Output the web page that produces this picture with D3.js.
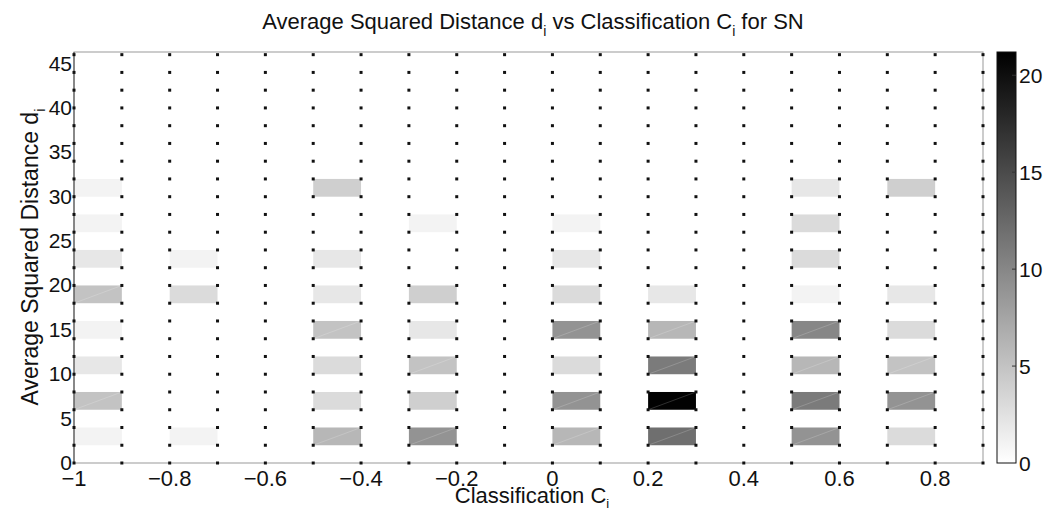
<!DOCTYPE html>
<html>
<head>
<meta charset="utf-8">
<script src="https://cdn.jsdelivr.net/npm/d3@7"></script>
<style>
  body { margin: 0; background: #fff; }
  text { font-family: "Liberation Sans", Arial, sans-serif; fill: #111; }
</style>
</head>
<body>
<svg id="chart" width="1044" height="513"></svg>
<script>
// bin left edges (classification) and bottom edges (distance), bin size 0.1 x 2
const binX = [-1, -0.8, -0.5, -0.3, 0, 0.2, 0.5, 0.7]
const binY = [2, 6, 10, 14, 18, 22, 26, 30]
// counts[column][row], rows from bottom (2-4) to top (30-32)
const counts = [
  [1, 5, 2, 1, 5, 2, 1, 1],
  [1, 0, 0, 0, 3, 1, 0, 0],
  [6, 3, 3, 5, 2, 2, 0, 4],
  [9, 4, 5, 2, 4, 0, 1, 0],
  [6, 9, 3, 9, 3, 2, 1, 0],
  [12, 21, 11, 6, 2, 0, 0, 0],
  [9, 11, 6, 10, 1, 3, 3, 2],
  [3, 9, 5, 3, 2, 0, 0, 4],
]
const gridX = [-1, -0.9, -0.8, -0.7, -0.6, -0.5, -0.4, -0.3, -0.2, -0.1, 0,
  0.1, 0.2, 0.3, 0.4, 0.5, 0.6, 0.7, 0.8, 0.9]
const gridY = [0, 2, 4, 6, 8, 10, 12, 14, 16, 18, 20, 22, 24, 26, 28, 30, 32,
  34, 36, 38, 40, 42, 44, 46]
const xTicks = [-1, -0.8, -0.6, -0.4, -0.2, 0, 0.2, 0.4, 0.6, 0.8]
const yTicks = [0, 5, 10, 15, 20, 25, 30, 35, 40, 45]
const cTicks = [0, 5, 10, 15, 20]
const cMax = 21.2

const svg = d3.select('#chart')
const m = { left: 74, right: 983, top: 52, bottom: 463 }

const x = d3.scaleLinear().domain([-1, 0.9]).range([m.left, m.right])
const y = d3.scaleLinear().domain([0, 46.3]).range([m.bottom, m.top])
const color = d3.scaleLinear().domain([0, cMax]).range(['#ffffff', '#000000'])

const fmt = (d) => (d === 0 ? '0' : String(d).replace('-', '\u2212'))

// cells
const cells = []
binX.forEach((bx, i) => {
  binY.forEach((by, j) => {
    if (counts[i][j] > 0) cells.push({ x0: bx, y0: by, v: counts[i][j] })
  })
})

const cellG = svg.append('g')
cellG.selectAll('rect')
  .data(cells)
  .join('rect')
  .attr('x', (d) => x(d.x0))
  .attr('y', (d) => y(d.y0 + 2))
  .attr('width', (d) => x(d.x0 + 0.1) - x(d.x0))
  .attr('height', (d) => y(d.y0) - y(d.y0 + 2))
  .attr('fill', (d) => color(d.v))

cellG.selectAll('line')
  .data(cells.filter((d) => d.v > 4))
  .join('line')
  .attr('x1', (d) => x(d.x0))
  .attr('y1', (d) => y(d.y0))
  .attr('x2', (d) => x(d.x0 + 0.1))
  .attr('y2', (d) => y(d.y0 + 2))
  .style('stroke', '#fff')
  .style('stroke-opacity', 0.18)
  .style('stroke-width', 1)

// frame
svg.append('rect')
  .attr('x', m.left).attr('y', m.top)
  .attr('width', m.right - m.left).attr('height', m.bottom - m.top)
  .attr('fill', 'none')
  .style('stroke', '#999')
  .style('stroke-width', 1)
svg.append('line')
  .attr('x1', m.left).attr('x2', m.left).attr('y1', m.top).attr('y2', m.bottom)
  .style('stroke', '#444')

// grid dots at bin corners
const dots = []
gridX.forEach((gx) => gridY.forEach((gy) => dots.push([gx, gy])))
svg.append('g')
  .selectAll('rect')
  .data(dots)
  .join('rect')
  .attr('x', (d) => x(d[0]) - 1.5)
  .attr('y', (d) => y(d[1]) - 1.5)
  .attr('width', 3)
  .attr('height', 3)
  .attr('fill', '#111')

// tick labels
svg.append('g')
  .selectAll('text')
  .data(xTicks)
  .join('text')
  .attr('x', (d) => x(d))
  .attr('y', 486)
  .attr('text-anchor', 'middle')
  .style('font-size', '22px')
  .text(fmt)

svg.append('g')
  .selectAll('text')
  .data(yTicks)
  .join('text')
  .attr('x', m.left - 2)
  .attr('y', (d) => y(d) + 7)
  .attr('text-anchor', 'end')
  .style('font-size', '21px')
  .text(fmt)

// title and axis labels
const title = svg.append('text')
  .attr('x', 533).attr('y', 29)
  .attr('text-anchor', 'middle')
  .style('font-size', '22px')
title.append('tspan').text('Average Squared Distance d')
title.append('tspan').attr('dy', 7).style('font-size', '14px').text('i')
title.append('tspan').attr('dy', -7).text(' vs Classification C')
title.append('tspan').attr('dy', 7).style('font-size', '14px').text('i')
title.append('tspan').attr('dy', -7).text(' for SN')

const xl = svg.append('text')
  .attr('x', 532).attr('y', 503)
  .attr('text-anchor', 'middle')
  .style('font-size', '22px')
xl.append('tspan').text('Classification C')
xl.append('tspan').attr('dy', 5).style('font-size', '13px').text('i')

const yl = svg.append('text')
  .attr('transform', 'translate(38,257) rotate(-90)')
  .attr('text-anchor', 'middle')
  .style('font-size', '23px')
yl.append('tspan').text('Average Squared Distance d')
yl.append('tspan').attr('dy', 7).style('font-size', '15px').text('i')

// colorbar
const cbLeft = 997, cbWidth = 19
const cy = d3.scaleLinear().domain([0, cMax]).range([m.bottom, m.top])
const defs = svg.append('defs')
const grad = defs.append('linearGradient')
  .attr('id', 'cbgrad')
  .attr('x1', 0).attr('y1', 1).attr('x2', 0).attr('y2', 0)
grad.append('stop').attr('offset', 0).attr('stop-color', color(0))
grad.append('stop').attr('offset', 1).attr('stop-color', color(cMax))

svg.append('rect')
  .attr('x', cbLeft).attr('y', m.top)
  .attr('width', cbWidth).attr('height', m.bottom - m.top)
  .attr('fill', 'url(#cbgrad)')
  .style('stroke', '#111')
  .style('stroke-width', 1)

svg.append('g')
  .selectAll('line')
  .data(cTicks.slice(1))
  .join('line')
  .attr('x1', cbLeft + cbWidth - 4)
  .attr('x2', cbLeft + cbWidth)
  .attr('y1', (d) => cy(d))
  .attr('y2', (d) => cy(d))
  .style('stroke', '#333')

svg.append('g')
  .selectAll('text')
  .data(cTicks)
  .join('text')
  .attr('x', cbLeft + cbWidth + 3)
  .attr('y', (d) => cy(d) + 8)
  .style('font-size', '21px')
  .text(fmt)
</script>
</body>
</html>
